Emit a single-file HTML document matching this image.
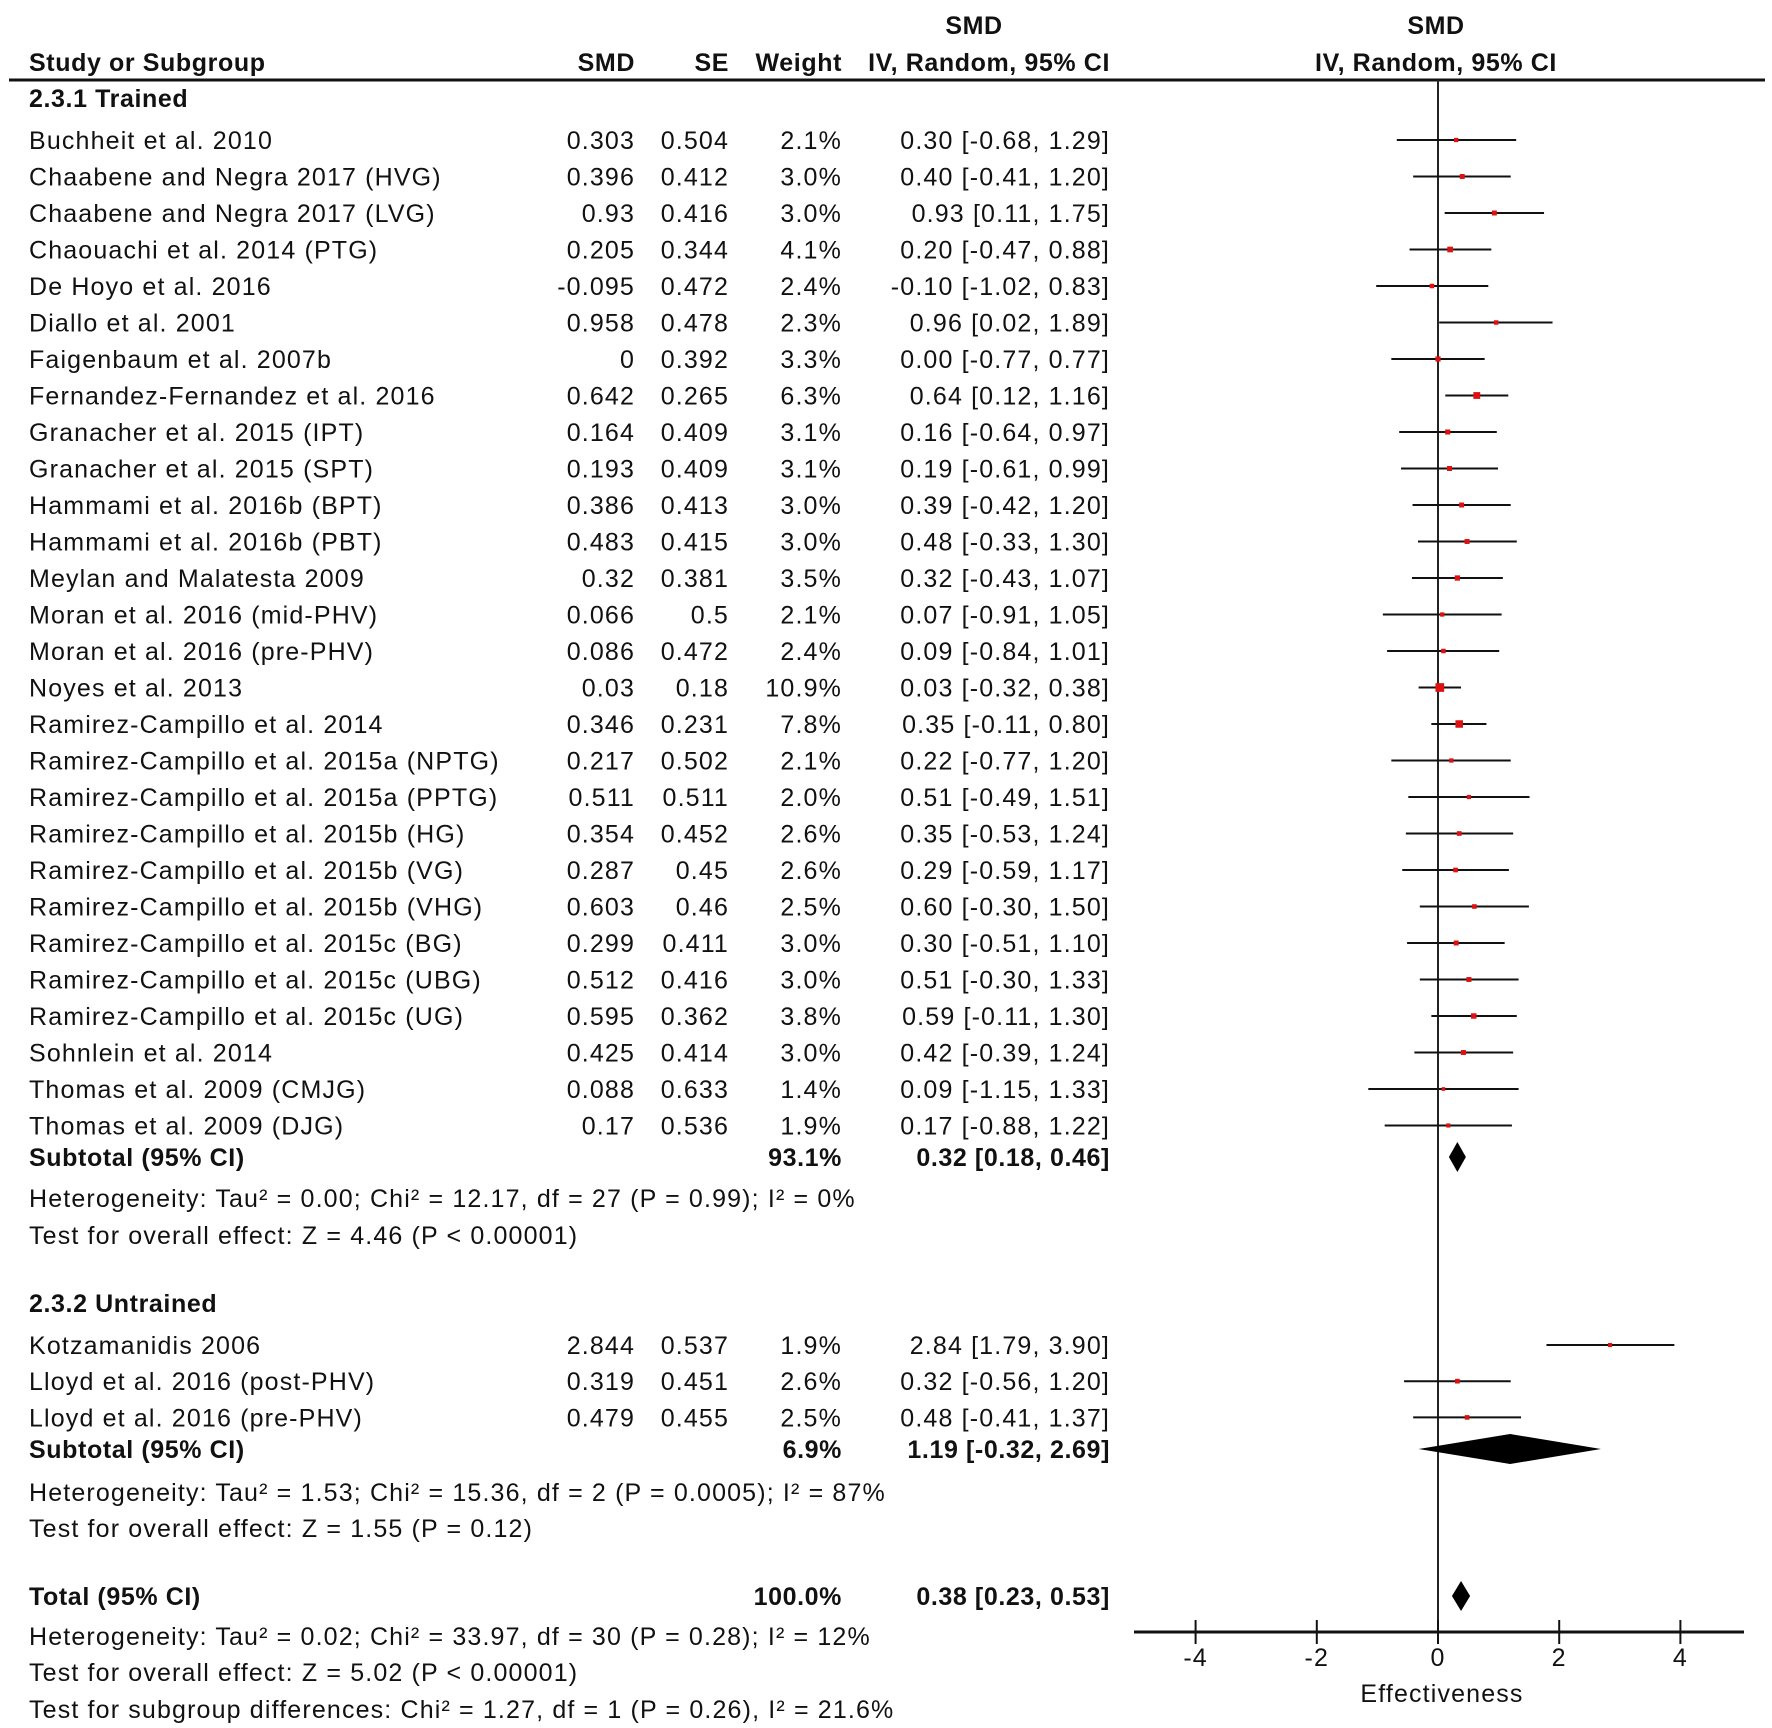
<!DOCTYPE html>
<html><head><meta charset="utf-8"><style>
html,body{margin:0;padding:0;background:#fff;}
svg{display:block;}
text{font-family:"Liberation Sans",Arial,sans-serif;font-size:25px;fill:#111;letter-spacing:1.15px;}
.b{font-weight:bold;letter-spacing:0.6px;}
</style></head><body>
<svg id="fp" width="1772" height="1728" viewBox="0 0 1772 1728" xmlns="http://www.w3.org/2000/svg"></svg>
<script>
const studies=["Buchheit et al. 2010","Chaabene and Negra 2017 (HVG)","Chaabene and Negra 2017 (LVG)","Chaouachi et al. 2014 (PTG)","De Hoyo et al. 2016","Diallo et al. 2001","Faigenbaum et al. 2007b","Fernandez-Fernandez et al. 2016","Granacher et al. 2015 (IPT)","Granacher et al. 2015 (SPT)","Hammami et al. 2016b (BPT)","Hammami et al. 2016b (PBT)","Meylan and Malatesta 2009","Moran et al. 2016 (mid-PHV)","Moran et al. 2016 (pre-PHV)","Noyes et al. 2013","Ramirez-Campillo et al. 2014","Ramirez-Campillo et al. 2015a (NPTG)","Ramirez-Campillo et al. 2015a (PPTG)","Ramirez-Campillo et al. 2015b (HG)","Ramirez-Campillo et al. 2015b (VG)","Ramirez-Campillo et al. 2015b (VHG)","Ramirez-Campillo et al. 2015c (BG)","Ramirez-Campillo et al. 2015c (UBG)","Ramirez-Campillo et al. 2015c (UG)","Sohnlein et al. 2014","Thomas et al. 2009 (CMJG)","Thomas et al. 2009 (DJG)"];
const smdText=["0.303","0.396","0.93","0.205","-0.095","0.958","0","0.642","0.164","0.193","0.386","0.483","0.32","0.066","0.086","0.03","0.346","0.217","0.511","0.354","0.287","0.603","0.299","0.512","0.595","0.425","0.088","0.17"];
const seText=["0.504","0.412","0.416","0.344","0.472","0.478","0.392","0.265","0.409","0.409","0.413","0.415","0.381","0.5","0.472","0.18","0.231","0.502","0.511","0.452","0.45","0.46","0.411","0.416","0.362","0.414","0.633","0.536"];
const weights=[2.1,3.0,3.0,4.1,2.4,2.3,3.3,6.3,3.1,3.1,3.0,3.0,3.5,2.1,2.4,10.9,7.8,2.1,2.0,2.6,2.6,2.5,3.0,3.0,3.8,3.0,1.4,1.9];
const est=[0.30,0.40,0.93,0.20,-0.10,0.96,0.00,0.64,0.16,0.19,0.39,0.48,0.32,0.07,0.09,0.03,0.35,0.22,0.51,0.35,0.29,0.60,0.30,0.51,0.59,0.42,0.09,0.17];
const lo=[-0.68,-0.41,0.11,-0.47,-1.02,0.02,-0.77,0.12,-0.64,-0.61,-0.42,-0.33,-0.43,-0.91,-0.84,-0.32,-0.11,-0.77,-0.49,-0.53,-0.59,-0.30,-0.51,-0.30,-0.11,-0.39,-1.15,-0.88];
const hi=[1.29,1.20,1.75,0.88,0.83,1.89,0.77,1.16,0.97,0.99,1.20,1.30,1.07,1.05,1.01,0.38,0.80,1.20,1.51,1.24,1.17,1.50,1.10,1.33,1.30,1.24,1.33,1.22];
const studies2=["Kotzamanidis 2006","Lloyd et al. 2016 (post-PHV)","Lloyd et al. 2016 (pre-PHV)"];
const smdText2=["2.844","0.319","0.479"];
const seText2=["0.537","0.451","0.455"];
const weights2=[1.9,2.6,2.5];
const est2=[2.84,0.32,0.48];
const lo2=[1.79,-0.56,-0.41];
const hi2=[3.90,1.20,1.37];
const pooledEst=[0.32,1.19,0.38];
const pooledLo=[0.18,-0.32,0.23];
const pooledHi=[0.46,2.69,0.53];
const ticks=[-4,-2,0,2,4];

const svg=document.getElementById('fp');
const NS='http://www.w3.org/2000/svg';
function x(v){return 1438+v*60.6;}
function mk(tag,attrs){const e=document.createElementNS(NS,tag);for(const k in attrs)e.setAttribute(k,attrs[k]);svg.appendChild(e);return e;}
function txt(s,px,py,anchor,cls,name){const t=mk('text',{x:px,y:py,'text-anchor':anchor||'start'});if(cls)t.setAttribute('class',cls);t.textContent=s;


return t;}
function fmt(v){return v.toFixed(2);}

txt('SMD',974,34,'middle','b','header-smd-top');
txt('SMD',1436,34,'middle','b','plot-header-smd-top');
txt('Study or Subgroup',29,71,'start','b','header-study');
txt('SMD',635,71,'end','b','header-smd');
txt('SE',729,71,'end','b','header-se');
txt('Weight',842,71,'end','b','header-weight');
txt('IV, Random, 95% CI',1110,71,'end','b','header-ci');
txt('IV, Random, 95% CI',1436,71,'middle','b','plot-header-ci');
let hl=mk('line',{x1:9,y1:80,x2:1765,y2:80,stroke:'#111','stroke-width':3});


let zl=mk('line',{x1:x(0),y1:80,x2:x(0),y2:1632,stroke:'#222','stroke-width':2});



function row(name,s,se,w,e,l,h,cy,i){
  txt(name,29,cy+9,'start',null,'study-name');
  txt(s,635,cy+9,'end',null,'smd-value');
  txt(se,729,cy+9,'end',null,'se-value');
  txt(w.toFixed(1)+'%',842,cy+9,'end',null,'weight-value');
  txt(fmt(e)+' ['+fmt(l)+', '+fmt(h)+']',1110,cy+9,'end',null,'ci-value');
  const ln=mk('line',{x1:x(l),y1:cy,x2:x(h),y2:cy,stroke:'#111','stroke-width':2});
  
  
  const sz=2.4*Math.sqrt(w)+0.8;
  const r=mk('rect',{x:x(e)-sz/2,y:cy-sz/2,width:sz,height:sz,fill:'#d11'});
  
  
}
txt('2.3.1 Trained',29,107,'start','b','subgroup-trained');
for(let i=0;i<studies.length;i++) row(studies[i],smdText[i],seText[i],weights[i],est[i],lo[i],hi[i],140+36.5*i,i);
function diamond(k,cy,label,wt,name){
  txt(label,29,cy+9,'start','b',name+'-label');
  txt(wt,842,cy+9,'end','b',name+'-weight');
  txt(fmt(pooledEst[k])+' ['+fmt(pooledLo[k])+', '+fmt(pooledHi[k])+']',1110,cy+9,'end','b',name+'-ci');
  const p=mk('polygon',{points:`${x(pooledLo[k])},${cy} ${x(pooledEst[k])},${cy-15} ${x(pooledHi[k])},${cy} ${x(pooledEst[k])},${cy+15}`,fill:'#000'});
  
  
}
diamond(0,1157,'Subtotal (95% CI)','93.1%','subtotal-trained');
txt('Heterogeneity: Tau² = 0.00; Chi² = 12.17, df = 27 (P = 0.99); I² = 0%',29,1207,'start',null,'heterogeneity-trained');
txt('Test for overall effect: Z = 4.46 (P < 0.00001)',29,1244,'start',null,'overall-effect-trained');
txt('2.3.2 Untrained',29,1312,'start','b','subgroup-untrained');
for(let i=0;i<studies2.length;i++) row(studies2[i],smdText2[i],seText2[i],weights2[i],est2[i],lo2[i],hi2[i],1345+36.2*i,i);
diamond(1,1449,'Subtotal (95% CI)','6.9%','subtotal-untrained');
txt('Heterogeneity: Tau² = 1.53; Chi² = 15.36, df = 2 (P = 0.0005); I² = 87%',29,1501,'start',null,'heterogeneity-untrained');
txt('Test for overall effect: Z = 1.55 (P = 0.12)',29,1537,'start',null,'overall-effect-untrained');
diamond(2,1596,'Total (95% CI)','100.0%','total');
txt('Heterogeneity: Tau² = 0.02; Chi² = 33.97, df = 30 (P = 0.28); I² = 12%',29,1645,'start',null,'heterogeneity-total');
txt('Test for overall effect: Z = 5.02 (P < 0.00001)',29,1681,'start',null,'overall-effect-total');
txt('Test for subgroup differences: Chi² = 1.27, df = 1 (P = 0.26), I² = 21.6%',29,1718,'start',null,'subgroup-differences');

const ax=mk('line',{x1:1134,y1:1632,x2:1744,y2:1632,stroke:'#111','stroke-width':3});


for(const t of ticks){
  const tl=mk('line',{x1:x(t),y1:1620,x2:x(t),y2:1644,stroke:'#111','stroke-width':2});
  
  
  txt(String(t),x(t),1666,'middle',null,'x-tick-label');
}
txt('Effectiveness',1442,1702,'middle',null,'x-axis-title');
</script>
</body></html>
